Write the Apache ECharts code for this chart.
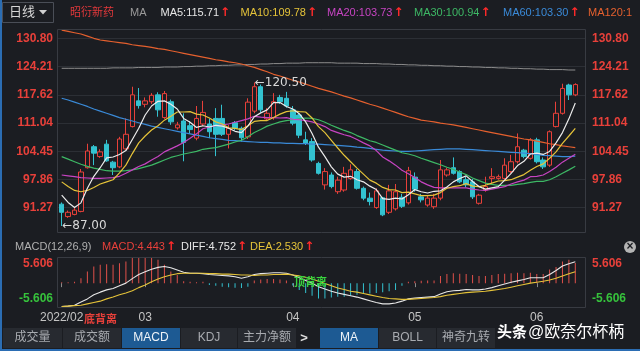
<!DOCTYPE html>
<html><head><meta charset="utf-8">
<script src="https://cdn.jsdelivr.net/npm/echarts@6/dist/echarts.min.js"></script>
<style>html,body{margin:0;padding:0;background:#1b1d22;}#c{width:640px;height:351px;}</style>
</head><body><div id="c"></div>
<script>
const dates = ['2022-02-10','2022-02-11','2022-02-14','2022-02-15','2022-02-16','2022-02-17','2022-02-18','2022-02-21','2022-02-22','2022-02-23','2022-02-24','2022-02-25','2022-02-28',
'2022-03-01','2022-03-02','2022-03-03','2022-03-04','2022-03-07','2022-03-08','2022-03-09','2022-03-10','2022-03-11','2022-03-14','2022-03-15','2022-03-16','2022-03-17','2022-03-18','2022-03-21','2022-03-22','2022-03-23','2022-03-24','2022-03-25','2022-03-28','2022-03-29','2022-03-30','2022-03-31',
'2022-04-01','2022-04-06','2022-04-07','2022-04-08','2022-04-11','2022-04-12','2022-04-13','2022-04-14','2022-04-15','2022-04-18','2022-04-19','2022-04-20','2022-04-21','2022-04-22','2022-04-25','2022-04-26','2022-04-27','2022-04-28','2022-04-29',
'2022-05-05','2022-05-06','2022-05-09','2022-05-10','2022-05-11','2022-05-12','2022-05-13','2022-05-16','2022-05-17','2022-05-18','2022-05-19','2022-05-20','2022-05-23','2022-05-24','2022-05-25','2022-05-26','2022-05-27','2022-05-30','2022-05-31',
'2022-06-01','2022-06-02','2022-06-06','2022-06-07','2022-06-08','2022-06-09','2022-06-10'];

const opens = [92.1,89.2,89.7,90.4,100.6,105.5,103.2,106.1,101.9,100.8,
105.0,110.2,116.2,115.4,116.0,117.6,112.3,116.0,109.9,111.5,
110.4,107.5,110.8,110.8,112.1,112.1,108.4,111.1,109.8,107.8,
113.8,119.5,112.0,112.3,117.0,116.8,114.1,112.9,107.1,106.7,
101.6,96.6,98.9,95.0,95.4,98.1,99.7,95.8,93.5,91.3,
93.6,90.2,91.0,93.7,92.4,98.4,93.8,91.9,91.5,93.5,
98.9,100.6,99.7,97.8,97.3,92.3,95.4,98.1,98.1,98.1,
99.7,102.0,104.7,102.8,107.1,102.4,101.2,110.2,113.3,119.9,
117.6];
const closes = [90.2,90.2,90.7,99.6,104.5,104.0,104.3,102.2,100.6,107.3,
108.4,117.6,115.1,116.2,117.5,114.1,117.9,111.3,110.6,106.5,
109.5,112.1,113.5,109.0,108.4,108.4,109.8,109.8,107.6,115.9,
119.5,114.1,113.3,116.0,116.0,115.0,111.0,108.2,106.3,102.4,
99.3,99.7,96.2,97.7,99.3,100.1,95.8,93.5,92.7,95.2,
89.6,95.2,95.0,91.6,99.9,95.6,93.1,93.5,93.5,100.1,
100.1,99.3,97.3,96.6,93.8,94.2,96.2,98.5,98.5,101.2,
102.0,105.5,103.2,107.1,102.0,100.8,109.0,113.3,119.1,117.6,
120.0];
const lows = [87.0,88.9,89.5,90.2,100.4,101.2,102.9,102.0,98.9,100.5,
104.8,110.0,114.4,114.7,115.5,112.5,112.0,110.6,109.5,102.1,
108.5,107.0,110.3,107.5,103.3,108.0,105.1,109.3,106.7,107.3,
113.3,113.5,111.5,111.8,115.5,114.6,110.5,107.5,105.9,102.0,
99.0,95.5,95.8,94.5,95.0,97.8,95.5,93.0,91.8,91.0,
89.3,89.8,90.6,91.2,92.0,95.0,92.5,91.5,91.0,93.0,
98.5,99.0,97.0,96.0,93.3,92.0,95.0,97.0,97.8,97.8,
99.3,101.6,102.8,102.5,101.6,100.3,100.8,110.0,113.0,116.4,
117.3];
const highs = [92.5,90.6,91.4,100.3,106.2,105.9,104.9,107.1,102.2,107.8,
112.1,119.5,119.2,117.0,118.0,118.2,118.5,116.5,111.3,113.3,
111.5,115.0,116.2,112.0,114.5,115.3,110.6,111.5,110.2,116.8,
120.5,120.0,114.5,118.0,117.6,118.3,115.0,113.3,109.0,107.5,
102.0,100.5,99.5,98.5,100.8,101.4,100.3,96.2,94.8,95.8,
93.8,96.6,96.8,94.5,100.8,99.5,94.5,94.0,94.5,102.4,
100.6,103.0,100.0,98.5,98.0,94.5,98.5,100.5,99.0,102.8,
103.6,108.6,105.0,107.5,107.6,103.0,109.3,116.0,120.2,120.2,
120.3];

const ma5 = [94.2,92.5,91.3,92.4,95.8,98.6,100.6,102.9,103.1,103.7,
104.6,107.2,109.8,112.9,115.0,116.1,116.2,115.4,114.3,112.1,
111.2,110.0,110.4,110.1,110.5,110.3,109.8,109.1,108.8,110.3,
112.5,113.4,114.1,115.8,115.8,114.9,114.3,113.2,111.3,108.6,
105.4,103.2,100.8,99.1,98.4,98.6,97.8,97.3,96.3,95.5,
93.4,93.2,93.5,93.3,94.3,95.5,95.0,94.7,95.1,95.2,
96.1,97.3,98.1,98.7,97.4,96.2,95.6,95.9,96.2,97.7,
99.3,101.1,102.1,103.8,104.0,103.7,104.4,106.4,108.8,112.0,
115.71];
const ma10 = [97.3,96.2,95.3,95.0,95.3,96.0,96.8,97.3,97.8,99.4,
101.2,103.9,106.4,108.0,109.4,110.4,111.7,112.6,113.6,113.6,
113.7,113.1,112.9,112.2,111.3,110.8,109.9,109.8,109.5,110.4,
111.4,111.6,111.6,112.3,113.1,113.7,113.9,113.7,113.6,112.2,
110.2,108.8,107.0,105.2,103.5,102.0,100.5,99.1,97.7,97.0,
96.0,95.5,95.4,94.8,94.9,94.5,94.1,94.1,94.2,94.8,
95.8,96.2,96.4,96.9,96.3,96.2,96.5,97.0,97.5,97.6,
97.8,98.4,99.0,100.0,100.9,101.5,102.8,104.3,106.3,108.0,
109.78];
const ma20 = [98.9,98.7,98.5,98.3,98.2,98.1,98.1,98.2,98.3,98.6,
99.3,100.1,100.9,101.5,102.4,103.2,104.3,105.0,105.7,106.5,
107.5,108.5,109.7,110.1,110.4,110.6,110.8,111.2,111.6,112.0,
112.6,112.4,112.3,112.3,112.2,112.3,111.9,111.8,111.6,111.3,
110.8,110.2,109.3,108.8,108.3,107.9,107.2,106.4,105.7,104.6,
103.1,102.2,101.2,100.0,99.2,98.3,97.3,96.6,96.0,95.9,
95.9,95.9,95.9,95.9,95.6,95.4,95.3,95.6,95.9,96.2,
96.8,97.3,97.7,98.5,98.6,98.9,99.7,100.7,101.9,102.8,
103.73];
const ma30 = [103.2,102.6,102.0,101.4,100.9,100.5,100.2,99.9,99.8,99.8,
99.9,100.1,100.4,100.8,101.2,101.8,102.4,103.0,103.4,103.8,
104.1,104.4,104.9,105.1,105.3,105.7,106.1,106.6,107.0,107.8,
108.8,109.5,110.3,110.8,111.3,111.6,111.8,112.0,112.2,112.1,
111.8,111.2,110.5,109.9,109.3,108.8,108.1,107.5,106.9,106.5,
105.9,105.3,104.7,104.1,103.8,103.4,102.8,102.3,101.8,101.3,
100.7,100.2,99.6,99.0,98.2,97.6,97.0,96.7,96.5,96.5,
96.5,96.7,96.9,97.2,97.4,97.4,97.8,98.5,99.3,100.1,
100.94];
const ma60 = [116.8,116.4,115.9,115.4,114.9,114.3,113.8,113.3,112.8,112.3,
111.9,111.5,111.1,110.7,110.3,110.0,109.7,109.4,109.1,108.8,
108.5,108.2,107.9,107.6,107.4,107.2,107.0,106.9,106.8,106.7,
106.6,106.5,106.5,106.4,106.4,106.3,106.3,106.2,106.2,106.1,
106.1,106.0,105.9,105.8,105.7,105.6,105.4,105.3,105.1,104.9,
104.7,104.6,104.5,104.4,104.4,104.5,104.6,104.7,104.8,104.9,
105.0,105.0,105.0,104.9,104.8,104.7,104.6,104.5,104.4,104.3,
104.2,104.1,104.0,103.9,103.7,103.5,103.4,103.3,103.2,103.2,
103.30];
const ma120 = [132.7,132.4,132.1,131.8,131.3,130.8,130.4,130.2,130.0,129.8,
129.6,129.3,129.1,128.9,128.7,128.4,128.2,127.9,127.6,127.3,
127.0,126.7,126.4,126.1,125.8,125.6,125.3,125.1,124.8,124.4,
124.0,123.5,123.0,122.4,122.0,121.5,121.0,120.6,120.1,119.6,
119.1,118.7,118.3,117.8,117.3,116.9,116.4,115.9,115.4,115.0,
114.5,114.0,113.5,113.0,112.5,112.1,111.7,111.5,111.3,111.0,
110.8,110.6,110.3,110.0,109.7,109.4,109.1,108.8,108.5,108.2,
107.9,107.6,107.3,107.1,106.8,106.5,106.2,106.0,105.7,105.5,
105.3];
const ma250 = [123.8,123.8,123.8,123.8,123.8,123.8,123.8,123.8,123.9,123.9,
123.9,123.9,124.0,124.0,124.0,124.0,124.1,124.1,124.1,124.2,
124.2,124.3,124.3,124.4,124.4,124.5,124.5,124.6,124.6,124.7,
124.7,124.8,124.8,124.9,124.9,125.0,125.0,125.0,125.1,125.1,
125.1,125.1,125.1,125.0,125.0,125.0,125.0,124.9,124.9,124.9,
124.8,124.8,124.7,124.7,124.6,124.6,124.5,124.5,124.4,124.4,
124.3,124.3,124.2,124.2,124.1,124.1,124.0,124.0,123.9,123.9,
123.8,123.8,123.7,123.7,123.6,123.6,123.5,123.5,123.5,123.4,
123.4];

const diff = [-5.2,-5.1,-4.9,-4.2,-3.5,-2.6,-2.0,-1.5,-1.2,-0.6,
0.0,1.0,1.9,2.5,3.1,3.5,3.7,3.4,2.9,2.4,
2.2,2.2,2.1,1.9,1.8,1.7,1.6,1.4,1.1,1.4,
1.9,2.1,2.2,2.3,2.3,2.2,1.8,1.2,0.6,0.0,
-0.8,-1.3,-1.8,-2.2,-2.5,-2.8,-3.1,-3.5,-3.9,-4.3,
-4.6,-4.6,-4.4,-4.0,-3.5,-3.3,-3.2,-3.1,-3.0,-2.4,
-1.9,-1.7,-1.6,-1.4,-1.5,-1.5,-1.3,-1.0,-0.6,-0.2,
0.2,0.5,0.8,1.2,1.2,1.2,1.9,2.8,3.8,4.3,
4.752];
const dea = [-5.2,-5.1,-5.0,-4.9,-4.6,-4.3,-4.0,-3.5,-3.1,-2.6,
-2.2,-1.7,-1.0,-0.4,0.3,0.9,1.4,1.8,2.1,2.2,
2.2,2.2,2.2,2.1,2.1,2.0,2.0,1.9,1.8,1.8,
1.7,1.8,1.8,1.9,1.9,2.0,1.8,1.6,1.3,0.9,
0.4,-0.1,-0.6,-1.1,-1.4,-1.8,-2.0,-2.3,-2.6,-2.9,
-3.2,-3.4,-3.5,-3.6,-3.6,-3.5,-3.4,-3.3,-3.2,-3.0,
-2.7,-2.5,-2.3,-2.1,-2.0,-1.9,-1.8,-1.6,-1.4,-1.2,
-0.9,-0.6,-0.3,0.0,0.2,0.4,0.7,1.1,1.6,2.1,
2.53];
const macd = [0.2,0.2,0.3,1.1,2.6,3.7,4.1,4.2,4.1,4.4,
4.8,5.7,5.7,5.7,5.7,5.2,4.1,2.6,1.8,0.4,
0.3,0.2,0.3,-0.4,-0.6,-0.8,-0.9,-1.0,-1.1,-0.8,
0.6,0.8,0.9,0.9,0.8,0.6,-0.5,-1.5,-2.2,-2.8,
-3.4,-3.4,-3.2,-3.0,-3.0,-2.8,-2.6,-2.4,-2.3,-2.2,
-2.0,-1.8,-1.5,-0.6,0.3,0.4,0.5,0.6,0.6,1.6,
2.0,2.2,2.1,2.0,1.8,1.6,1.6,1.8,2.0,2.1,
2.2,2.3,2.2,2.3,2.0,2.0,3.0,3.6,4.8,5.2,
4.443];

const priceTicks = [130.80,124.21,117.62,111.04,104.45,97.86,91.27];
const macdTicks = [5.606,-5.606];
const highMark = {index:30, value:120.50};
const lowMark = {index:0, value:87.00};

const FONT = "'Liberation Sans','Noto Sans CJK SC',sans-serif";
const ARROWFONT = "'DejaVu Sans','Liberation Sans',sans-serif";
const RED = '#e8403a', CYAN = '#33c2d0', BG = '#1b1d22';
const monthIdx = dates.map((d,i)=> (i===0 || d.slice(5,7)!==dates[i-1].slice(5,7)) ? i : -1).filter(i=>i>=0);
function monthLabel(v){ const i=Math.round(v); const d=dates[i]; return i===0 ? d.slice(0,4)+'/'+d.slice(5,7) : d.slice(5,7); }
const XMIN=-0.732, XMAX=81.511;

function T(x,y,text,fill,size,w,align){
  return {type:'text', x:x, y:y, z:100, style:{text:text, fill:fill, font:(w||'normal')+' '+size+'px '+FONT, textAlign:align||'left', align:align||'left', textVerticalAlign:'middle', verticalAlign:'middle'}};
}
function R(x,y,text,color,size){
  return {type:'text', x:x, y:y, z:100, style:{text:'{v|'+text+'}{a|↑}', textVerticalAlign:'middle', verticalAlign:'middle',
    rich:{v:{fill:color, font:'normal '+size+'px '+FONT}, a:{fill:'#ff2a2a', font:'bold 12px '+ARROWFONT, padding:[0,0,0,1]}}}};
}
function tab(x,w,label,sel){
  return [{type:'rect', z:90, shape:{x:x,y:328,width:w,height:20}, style:{fill: sel?'#1d5a93':'#272a30'}},
          T(x+w/2,338,label, sel?'#eef3f8':'#a8abb0',12,'normal','center')];
}

const graphic = [
  {type:'rect', z:95, shape:{x:0,y:0,width:2,height:351}, style:{fill:'#2b6db3'}},
  {type:'rect', z:95, shape:{x:0,y:349,width:640,height:2}, style:{fill:'#2b6db3'}},
  {type:'rect', z:95, shape:{x:2.5,y:2.5,width:51,height:20}, style:{fill:'none', stroke:'#4a4e57', lineWidth:1}},
  T(9,12.5,'日线','#d6d6d6',13),
  {type:'polygon', z:100, shape:{points:[[39,10],[47,10],[43,14.5]]}, style:{fill:'#d0d0d0'}},
  T(70,12.5,'昭衍新药','#e2383b',11),
  T(130,12.5,'MA','#9a9a9a',11),
  R(160.5,12.5,'MA5:115.71','#e6e6e6',11),
  R(240.5,12.5,'MA10:109.78','#e5c339',11),
  R(327,12.5,'MA20:103.73','#c744c2',11),
  R(414,12.5,'MA30:100.94','#3db865',11),
  R(503,12.5,'MA60:103.30','#3a8ad8',11),
  T(588,12.5,'MA120:1','#e5602e',11),
  {type:'rect', z:95, shape:{x:57.5,y:29.5,width:528,height:203}, style:{fill:'none', stroke:'#383b42', lineWidth:1}},
  {type:'rect', z:95, shape:{x:57.5,y:257.5,width:528,height:50}, style:{fill:'none', stroke:'#383b42', lineWidth:1}},
  T(15,247,'MACD(12,26,9)','#b0b0b0',11),
  R(102,247,'MACD:4.443',RED,11),
  R(181,247,'DIFF:4.752','#e6e6e6',11),
  R(250,247,'DEA:2.530','#e5c339',11),
  {type:'circle', z:100, shape:{cx:630,cy:247,r:6}, style:{fill:'#b4b4b4'}},
  T(630,246.5,'×','#1b1d22',12,'bold','center'),
  T(84,320,'底背离',RED,11,'bold'),
  T(294,283,'顶背离','#39d43f',11,'bold'),
  ...tab(3,59,'成交量'), ...tab(63,58,'成交额'), ...tab(122,58,'MACD',true), ...tab(181,56,'KDJ'), ...tab(238,58,'主力净额'),
  T(304,338,'>','#e0e0e0',13,'bold','center'),
  ...tab(320,58,'MA',true), ...tab(379,57,'BOLL'), ...tab(437,58,'神奇九转'),
  T(497,333,'头条','#ffffff',15,'bold'),
  T(528,333,'@欧奈尔杯柄','#ffffff',16,'normal')
];

const lineS = (name,data,color,w) => ({name:name, type:'line', xAxisIndex:0, yAxisIndex:0, showSymbol:false, symbol:'none',
  data:data.map((v,i)=>[i,v]), lineStyle:{color:color, width:w||1.1}, silent:true, z:3});

const option = {
  backgroundColor: BG,
  animation: false,
  graphic: graphic,
  grid: [
    {left:57, top:29, width:528, height:203, show:false},
    {left:57, top:257, width:528, height:50, show:false}
  ],
  xAxis: [
    {gridIndex:0, type:'value', min:XMIN, max:XMAX, show:false},
    {gridIndex:1, type:'value', min:XMIN, max:XMAX, axisLine:{show:false}, splitLine:{show:false},
     axisTick:{show:true, customValues:monthIdx, length:4, lineStyle:{color:'#8a8a8a'}},
     axisLabel:{customValues:monthIdx, formatter:monthLabel, color:'#c4c4c4', fontSize:12, margin:5, fontFamily:FONT}}
  ],
  yAxis: [
    {gridIndex:0, type:'value', min:85.60, max:132.97, position:'left', axisLine:{show:false},
     axisTick:{show:false, customValues:priceTicks},
     axisLabel:{customValues:priceTicks, formatter:v=>v.toFixed(2), color:RED, fontSize:12, fontWeight:'bold', margin:4, fontFamily:FONT},
     splitLine:{show:true, lineStyle:{color:'#2c2f35', width:1}}},
    {gridIndex:0, type:'value', min:85.60, max:132.97, position:'right', axisLine:{show:false},
     axisTick:{show:false, customValues:priceTicks},
     axisLabel:{customValues:priceTicks, formatter:v=>v.toFixed(2), color:RED, fontSize:12, fontWeight:'bold', margin:7, fontFamily:FONT},
     splitLine:{show:false}},
    {gridIndex:1, type:'value', min:-5.3, max:5.8, show:false},
    {gridIndex:1, type:'value', min:-8.17, max:7.85, position:'left', axisLine:{show:false},
     axisTick:{show:false, customValues:macdTicks},
     axisLabel:{customValues:macdTicks, formatter:v=>v.toFixed(3), color:v=>v>0?RED:'#36c23c', fontSize:12, fontWeight:'bold', margin:4, fontFamily:FONT},
     splitLine:{show:false}},
    {gridIndex:1, type:'value', min:-8.17, max:7.85, position:'right', axisLine:{show:false},
     axisTick:{show:false, customValues:macdTicks},
     axisLabel:{customValues:macdTicks, formatter:v=>v.toFixed(3), color:v=>v>0?RED:'#36c23c', fontSize:12, fontWeight:'bold', margin:7, fontFamily:FONT},
     splitLine:{show:false}}
  ],
  series: [
    {type:'candlestick', xAxisIndex:0, yAxisIndex:0, barWidth:5, z:2,
     data: dates.map((d,i)=>[i, opens[i], closes[i], lows[i], highs[i]]),
     encode:{x:0, y:[1,2,3,4]},
     itemStyle:{color:BG, color0:CYAN, borderColor:RED, borderColor0:CYAN, borderWidth:1},
     markPoint:{symbol:'circle', symbolSize:1, itemStyle:{color:'transparent'},
       label:{show:true, position:'right', distance:0, color:'#d8d8d8', fontSize:12, fontFamily:ARROWFONT},
       data:[
         {coord:[highMark.index, highMark.value], label:{formatter:'←'+highMark.value.toFixed(2)}},
         {coord:[lowMark.index, lowMark.value], label:{formatter:'←'+lowMark.value.toFixed(2)}}
       ]}},
    lineS('MA250', ma250, '#8c8c8c', 1),
    lineS('MA120', ma120, '#e5602e', 1.2),
    lineS('MA60', ma60, '#3a8ad8', 1.2),
    lineS('MA30', ma30, '#3db865', 1.2),
    lineS('MA20', ma20, '#c744c2', 1.2),
    lineS('MA10', ma10, '#e5c339', 1.2),
    lineS('MA5', ma5, '#ececec', 1.2),
    {type:'bar', xAxisIndex:1, yAxisIndex:2, barWidth:1, silent:true,
     data: macd.map((v,i)=>[i,v]),
     itemStyle:{color:p=>p.value[1]>=0?'#e0504a':CYAN}},
    {type:'line', xAxisIndex:1, yAxisIndex:2, showSymbol:false, symbol:'none', data:diff.map((v,i)=>[i,v]), lineStyle:{color:'#e6e6e6', width:1.1}, z:4},
    {type:'line', xAxisIndex:1, yAxisIndex:2, showSymbol:false, symbol:'none', data:dea.map((v,i)=>[i,v]), lineStyle:{color:'#e5c339', width:1.1}, z:4}
  ]
};
const chart = echarts.init(document.getElementById('c'), null, {renderer:'canvas'});
chart.setOption(option);
</script></body></html>
